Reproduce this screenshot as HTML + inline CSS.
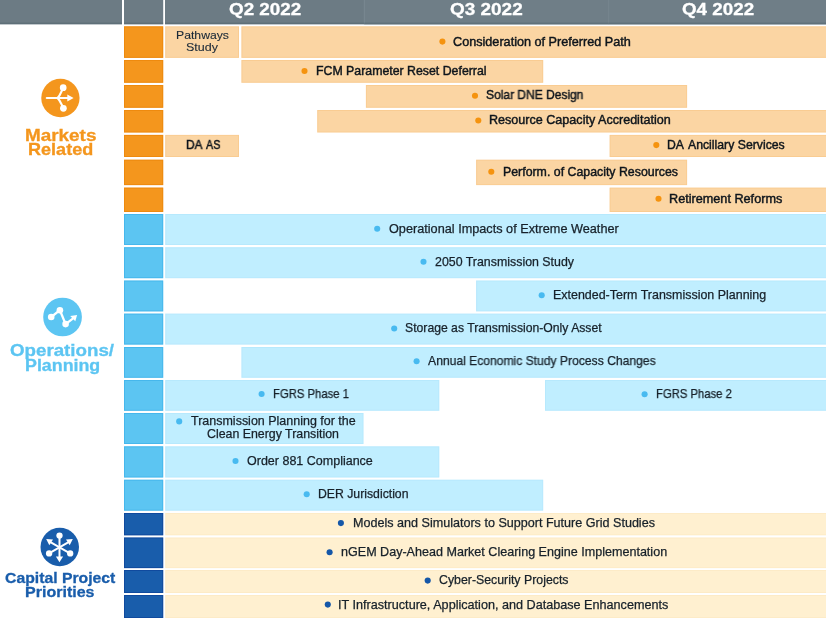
<!DOCTYPE html>
<html><head><meta charset="utf-8"><title>Work Plan Timeline</title>
<style>
html,body{margin:0;padding:0;background:#fff;}
body{width:826px;height:620px;position:relative;overflow:hidden;font-family:"Liberation Sans",sans-serif;}
.r{position:absolute;}
.t{position:absolute;white-space:nowrap;transform-origin:0 0;line-height:20px;height:20px;will-change:transform;}
.d{position:absolute;border-radius:50%;}
svg{position:absolute;left:0;top:0;}
</style></head><body>
<svg width="826" height="620" viewBox="0 0 826 620">
<rect x="0" y="0" width="122" height="24.3" fill="#6c7b84"/>
<rect x="124" y="0" width="39.2" height="24.3" fill="#6c7b84"/>
<rect x="165" y="0" width="661" height="24.3" fill="#6c7b84"/>
<rect x="364.3" y="0" width="461.7" height="24.3" fill="#6f7e87"/>
<rect x="363.8" y="0" width="1.0" height="24.3" fill="rgba(140,158,168,.4)"/>
<rect x="608.2" y="0" width="1.0" height="24.3" fill="rgba(140,158,168,.28)"/>
<rect x="0" y="22.6" width="122" height="1.7" fill="rgba(70,88,98,.35)"/>
<rect x="124" y="22.6" width="39.2" height="1.7" fill="rgba(70,88,98,.35)"/>
<rect x="165" y="22.6" width="661" height="1.7" fill="rgba(70,88,98,.35)"/>
<rect x="124" y="26.3" width="39.2" height="31.6" fill="#f4961d"/>
<rect x="124.5" y="26.8" width="38.2" height="30.6" fill="none" stroke="rgba(232,125,0,.5)" stroke-width="1"/>
<rect x="124" y="60" width="39.2" height="22.8" fill="#f4961d"/>
<rect x="124.5" y="60.5" width="38.2" height="21.8" fill="none" stroke="rgba(232,125,0,.5)" stroke-width="1"/>
<rect x="124" y="85" width="39.2" height="22.8" fill="#f4961d"/>
<rect x="124.5" y="85.5" width="38.2" height="21.8" fill="none" stroke="rgba(232,125,0,.5)" stroke-width="1"/>
<rect x="124" y="110" width="39.2" height="22.5" fill="#f4961d"/>
<rect x="124.5" y="110.5" width="38.2" height="21.5" fill="none" stroke="rgba(232,125,0,.5)" stroke-width="1"/>
<rect x="124" y="134.9" width="39.2" height="22.1" fill="#f4961d"/>
<rect x="124.5" y="135.4" width="38.2" height="21.1" fill="none" stroke="rgba(232,125,0,.5)" stroke-width="1"/>
<rect x="124" y="159.7" width="39.2" height="25.4" fill="#f4961d"/>
<rect x="124.5" y="160.2" width="38.2" height="24.4" fill="none" stroke="rgba(232,125,0,.5)" stroke-width="1"/>
<rect x="124" y="187.6" width="39.2" height="24.4" fill="#f4961d"/>
<rect x="124.5" y="188.1" width="38.2" height="23.4" fill="none" stroke="rgba(232,125,0,.5)" stroke-width="1"/>
<rect x="124" y="214" width="39.2" height="31" fill="#5cc5f2"/>
<rect x="124.5" y="214.5" width="38.2" height="30" fill="none" stroke="rgba(40,165,228,.42)" stroke-width="1"/>
<rect x="124" y="247.2" width="39.2" height="31.0" fill="#5cc5f2"/>
<rect x="124.5" y="247.7" width="38.2" height="30.0" fill="none" stroke="rgba(40,165,228,.42)" stroke-width="1"/>
<rect x="124" y="280.5" width="39.2" height="30.9" fill="#5cc5f2"/>
<rect x="124.5" y="281.0" width="38.2" height="29.9" fill="none" stroke="rgba(40,165,228,.42)" stroke-width="1"/>
<rect x="124" y="313.6" width="39.2" height="31.0" fill="#5cc5f2"/>
<rect x="124.5" y="314.1" width="38.2" height="30.0" fill="none" stroke="rgba(40,165,228,.42)" stroke-width="1"/>
<rect x="124" y="347" width="39.2" height="30.8" fill="#5cc5f2"/>
<rect x="124.5" y="347.5" width="38.2" height="29.8" fill="none" stroke="rgba(40,165,228,.42)" stroke-width="1"/>
<rect x="124" y="380" width="39.2" height="30.8" fill="#5cc5f2"/>
<rect x="124.5" y="380.5" width="38.2" height="29.8" fill="none" stroke="rgba(40,165,228,.42)" stroke-width="1"/>
<rect x="124" y="413" width="39.2" height="31" fill="#5cc5f2"/>
<rect x="124.5" y="413.5" width="38.2" height="30" fill="none" stroke="rgba(40,165,228,.42)" stroke-width="1"/>
<rect x="124" y="446.3" width="39.2" height="31.2" fill="#5cc5f2"/>
<rect x="124.5" y="446.8" width="38.2" height="30.2" fill="none" stroke="rgba(40,165,228,.42)" stroke-width="1"/>
<rect x="124" y="479.7" width="39.2" height="31.0" fill="#5cc5f2"/>
<rect x="124.5" y="480.2" width="38.2" height="30.0" fill="none" stroke="rgba(40,165,228,.42)" stroke-width="1"/>
<rect x="124" y="513" width="39.2" height="22.3" fill="#195dab"/>
<rect x="124.5" y="513.5" width="38.2" height="21.3" fill="none" stroke="rgba(8,55,145,.5)" stroke-width="1"/>
<rect x="124" y="537.5" width="39.2" height="30.6" fill="#195dab"/>
<rect x="124.5" y="538.0" width="38.2" height="29.6" fill="none" stroke="rgba(8,55,145,.5)" stroke-width="1"/>
<rect x="124" y="570" width="39.2" height="23" fill="#195dab"/>
<rect x="124.5" y="570.5" width="38.2" height="22" fill="none" stroke="rgba(8,55,145,.5)" stroke-width="1"/>
<rect x="124" y="595" width="39.2" height="23" fill="#195dab"/>
<rect x="124.5" y="595.5" width="38.2" height="22" fill="none" stroke="rgba(8,55,145,.5)" stroke-width="1"/>
<rect x="165.2" y="26.3" width="73.8" height="31.6" fill="#fbd5a3"/>
<rect x="165.7" y="26.8" width="72.8" height="30.6" fill="none" stroke="rgba(240,160,60,.16)" stroke-width="1"/>
<rect x="241.4" y="26.3" width="588.6" height="31.6" fill="#fbd5a3"/>
<rect x="241.9" y="26.8" width="587.6" height="30.6" fill="none" stroke="rgba(240,160,60,.16)" stroke-width="1"/>
<rect x="241.4" y="60" width="301.8" height="22.8" fill="#fbd5a3"/>
<rect x="241.9" y="60.5" width="300.8" height="21.8" fill="none" stroke="rgba(240,160,60,.16)" stroke-width="1"/>
<rect x="365.9" y="85" width="321.2" height="22.8" fill="#fbd5a3"/>
<rect x="366.4" y="85.5" width="320.2" height="21.8" fill="none" stroke="rgba(240,160,60,.16)" stroke-width="1"/>
<rect x="317.2" y="110" width="512.8" height="22.5" fill="#fbd5a3"/>
<rect x="317.7" y="110.5" width="511.8" height="21.5" fill="none" stroke="rgba(240,160,60,.16)" stroke-width="1"/>
<rect x="165.2" y="134.9" width="73.8" height="22.1" fill="#fbd5a3"/>
<rect x="165.7" y="135.4" width="72.8" height="21.1" fill="none" stroke="rgba(240,160,60,.16)" stroke-width="1"/>
<rect x="609.6" y="134.9" width="220.4" height="22.1" fill="#fbd5a3"/>
<rect x="610.1" y="135.4" width="219.4" height="21.1" fill="none" stroke="rgba(240,160,60,.16)" stroke-width="1"/>
<rect x="476.1" y="159.7" width="211.0" height="25.4" fill="#fbd5a3"/>
<rect x="476.6" y="160.2" width="210.0" height="24.4" fill="none" stroke="rgba(240,160,60,.16)" stroke-width="1"/>
<rect x="609.6" y="187.6" width="220.4" height="24.4" fill="#fbd5a3"/>
<rect x="610.1" y="188.1" width="219.4" height="23.4" fill="none" stroke="rgba(240,160,60,.16)" stroke-width="1"/>
<rect x="165.2" y="214" width="664.8" height="31" fill="#c0eeff"/>
<rect x="165.7" y="214.5" width="663.8" height="30" fill="none" stroke="rgba(120,200,240,.12)" stroke-width="1"/>
<rect x="165.2" y="247.2" width="664.8" height="31.0" fill="#c0eeff"/>
<rect x="165.7" y="247.7" width="663.8" height="30.0" fill="none" stroke="rgba(120,200,240,.12)" stroke-width="1"/>
<rect x="476.1" y="280.5" width="353.9" height="30.9" fill="#c0eeff"/>
<rect x="476.6" y="281.0" width="352.9" height="29.9" fill="none" stroke="rgba(120,200,240,.12)" stroke-width="1"/>
<rect x="165.2" y="313.6" width="664.8" height="31.0" fill="#c0eeff"/>
<rect x="165.7" y="314.1" width="663.8" height="30.0" fill="none" stroke="rgba(120,200,240,.12)" stroke-width="1"/>
<rect x="241.4" y="347" width="588.6" height="30.8" fill="#c0eeff"/>
<rect x="241.9" y="347.5" width="587.6" height="29.8" fill="none" stroke="rgba(120,200,240,.12)" stroke-width="1"/>
<rect x="165.2" y="380" width="274.1" height="30.8" fill="#c0eeff"/>
<rect x="165.7" y="380.5" width="273.1" height="29.8" fill="none" stroke="rgba(120,200,240,.12)" stroke-width="1"/>
<rect x="545" y="380" width="285" height="30.8" fill="#c0eeff"/>
<rect x="545.5" y="380.5" width="284" height="29.8" fill="none" stroke="rgba(120,200,240,.12)" stroke-width="1"/>
<rect x="165.2" y="413" width="198.3" height="31" fill="#c0eeff"/>
<rect x="165.7" y="413.5" width="197.3" height="30" fill="none" stroke="rgba(120,200,240,.12)" stroke-width="1"/>
<rect x="165.2" y="446.3" width="274.1" height="31.2" fill="#c0eeff"/>
<rect x="165.7" y="446.8" width="273.1" height="30.2" fill="none" stroke="rgba(120,200,240,.12)" stroke-width="1"/>
<rect x="165.2" y="479.7" width="378.0" height="31.0" fill="#c0eeff"/>
<rect x="165.7" y="480.2" width="377.0" height="30.0" fill="none" stroke="rgba(120,200,240,.12)" stroke-width="1"/>
<rect x="165.2" y="513" width="664.8" height="22.3" fill="#fff0d0"/>
<rect x="165.7" y="513.5" width="663.8" height="21.3" fill="none" stroke="rgba(235,205,140,.12)" stroke-width="1"/>
<rect x="165.2" y="537.5" width="664.8" height="30.6" fill="#fff0d0"/>
<rect x="165.7" y="538.0" width="663.8" height="29.6" fill="none" stroke="rgba(235,205,140,.12)" stroke-width="1"/>
<rect x="165.2" y="570" width="664.8" height="23" fill="#fff0d0"/>
<rect x="165.7" y="570.5" width="663.8" height="22" fill="none" stroke="rgba(235,205,140,.12)" stroke-width="1"/>
<rect x="165.2" y="595" width="664.8" height="23" fill="#fff0d0"/>
<rect x="165.7" y="595.5" width="663.8" height="22" fill="none" stroke="rgba(235,205,140,.12)" stroke-width="1"/>
<circle cx="442.4" cy="41.6" r="3.05" fill="#f5930f"/>
<circle cx="304.5" cy="71" r="3.05" fill="#f5930f"/>
<circle cx="475" cy="95.8" r="3.05" fill="#f5930f"/>
<circle cx="478.3" cy="120.5" r="3.05" fill="#f5930f"/>
<circle cx="656.3" cy="145.1" r="3.05" fill="#f5930f"/>
<circle cx="491.3" cy="171.7" r="3.05" fill="#f5930f"/>
<circle cx="658.5" cy="198.7" r="3.05" fill="#f5930f"/>
<circle cx="377.2" cy="228.8" r="3.05" fill="#48baf0"/>
<circle cx="423.5" cy="261.8" r="3.05" fill="#48baf0"/>
<circle cx="541.7" cy="295.2" r="3.05" fill="#48baf0"/>
<circle cx="394.2" cy="328.5" r="3.05" fill="#48baf0"/>
<circle cx="416.6" cy="361.3" r="3.05" fill="#48baf0"/>
<circle cx="261.6" cy="394" r="3.05" fill="#48baf0"/>
<circle cx="644.6" cy="394.2" r="3.05" fill="#48baf0"/>
<circle cx="179.2" cy="421.4" r="3.05" fill="#48baf0"/>
<circle cx="235.5" cy="461" r="3.05" fill="#48baf0"/>
<circle cx="306.7" cy="494.3" r="3.05" fill="#48baf0"/>
<circle cx="340.9" cy="523.1" r="3.05" fill="#1557a8"/>
<circle cx="329.6" cy="552.3" r="3.05" fill="#1557a8"/>
<circle cx="427.7" cy="580.6" r="3.05" fill="#1557a8"/>
<circle cx="327.8" cy="604.6" r="3.05" fill="#1557a8"/>
<g>
<!-- markets icon -->
<circle cx="60.4" cy="98" r="19.15" fill="#f4961d"/>
<g stroke="#fff" stroke-width="2.2" fill="none" stroke-linecap="round">
<path d="M46.8 98 H68.5"/>
<path d="M57.6 98 Q59.6 96 61.9 90.6"/>
<path d="M57.6 98 Q59.6 100 62.1 105.4"/>
</g>
<path d="M67.3 94.4 L73.6 98 L67.3 101.6 Z" fill="#fff"/>
<circle cx="63.2" cy="87.7" r="3.35" fill="#fff"/>
<circle cx="63.4" cy="108.3" r="3.35" fill="#fff"/>
<!-- ops icon -->
<circle cx="62.55" cy="317" r="19.35" fill="#5cc5f2"/>
<g stroke="#fff" stroke-width="2.3" fill="none" stroke-linecap="round" stroke-linejoin="round">
<path d="M51.2 317 L59.9 310.2 L65.6 324.1 L72.8 318.6"/>
</g>
<path d="M77.1 315 L70.2 316.1 L75.3 321.2 Z" fill="#fff"/>
<circle cx="51.2" cy="317" r="3.3" fill="#fff"/>
<circle cx="59.9" cy="310.2" r="3.3" fill="#fff"/>
<circle cx="65.6" cy="324.1" r="3.3" fill="#fff"/>
<!-- capital icon -->
<g transform="translate(0,0.3)">
<circle cx="59.75" cy="546.7" r="19.25" fill="#195dab"/>
<g stroke="#fff" stroke-width="2" fill="none" stroke-linecap="round">
<path d="M59.5 536 V557.5"/>
<path d="M50 541.6 L70 553"/>
<path d="M69 541.6 L49 553"/>
</g>
<circle cx="59.5" cy="535.3" r="3.15" fill="#fff"/>
<circle cx="49.1" cy="553.1" r="3.15" fill="#fff"/>
<circle cx="70.2" cy="553.1" r="3.15" fill="#fff"/>
<path d="M55.9 556.2 H63.1 L59.5 561.9 Z" fill="#fff"/>
<path d="M46.2 538.8 L53 539.2 L49.3 545 Z" fill="#fff"/>
<path d="M72.8 538.8 L66 539.2 L69.7 545 Z" fill="#fff"/>
</g>
</g>
</svg>
<div class="t" style="left:228.55px;top:-1px;font-size:17.2px;color:#fff;transform:scaleX(1.0962);-webkit-text-stroke:0.3px #fff;font-weight:bold;">Q2 2022</div>
<div class="t" style="left:450.44px;top:-1px;font-size:17.2px;color:#fff;transform:scaleX(1.1024);-webkit-text-stroke:0.3px #fff;font-weight:bold;">Q3 2022</div>
<div class="t" style="left:681.95px;top:-1px;font-size:17.2px;color:#fff;transform:scaleX(1.0931);-webkit-text-stroke:0.3px #fff;font-weight:bold;">Q4 2022</div>
<div class="t" style="left:175.82px;top:25px;font-size:11.4px;color:#1b2a38;transform:scaleX(1.0726);-webkit-text-stroke:0.12px #1b2a38;">Pathways</div>
<div class="t" style="left:186.44px;top:37px;font-size:11.4px;color:#1b2a38;transform:scaleX(1.0961);-webkit-text-stroke:0.12px #1b2a38;">Study</div>
<div class="t" style="left:452.97px;top:32px;font-size:12.2px;color:#0e151c;transform:scaleX(1.0377);-webkit-text-stroke:0.42px #0e151c;">Consideration of Preferred Path</div>
<div class="t" style="left:315.61px;top:61px;font-size:12.2px;color:#0e151c;transform:scaleX(1.0113);-webkit-text-stroke:0.42px #0e151c;">FCM Parameter Reset Deferral</div>
<div class="t" style="left:486.26px;top:85px;font-size:12.2px;color:#0e151c;transform:scaleX(0.9850);-webkit-text-stroke:0.42px #0e151c;">Solar DNE Design</div>
<div class="t" style="left:489.19px;top:110px;font-size:12.2px;color:#0e151c;transform:scaleX(1.0314);-webkit-text-stroke:0.42px #0e151c;">Resource Capacity Accreditation</div>
<div class="t" style="left:185.85px;top:135px;font-size:12.2px;color:#0e151c;transform:scaleX(0.9736);-webkit-text-stroke:0.5px #0e151c;">DA</div>
<div class="t" style="left:206.15px;top:135px;font-size:12.2px;color:#0e151c;transform:scaleX(0.8837);-webkit-text-stroke:0.5px #0e151c;">AS</div>
<div class="t" style="left:667.44px;top:135px;font-size:12.2px;color:#0e151c;transform:scaleX(0.9861);-webkit-text-stroke:0.42px #0e151c;">DA</div>
<div class="t" style="left:687.74px;top:135px;font-size:12.2px;color:#0e151c;transform:scaleX(1.0055);-webkit-text-stroke:0.42px #0e151c;">Ancillary Services</div>
<div class="t" style="left:502.61px;top:162px;font-size:12.2px;color:#0e151c;transform:scaleX(1.0130);-webkit-text-stroke:0.42px #0e151c;">Perform. of Capacity Resources</div>
<div class="t" style="left:669.49px;top:189px;font-size:12.2px;color:#0e151c;transform:scaleX(1.0387);-webkit-text-stroke:0.42px #0e151c;">Retirement Reforms</div>
<div class="t" style="left:388.93px;top:219px;font-size:12.2px;color:#17212a;transform:scaleX(1.0414);-webkit-text-stroke:0.25px #17212a;">Operational Impacts of Extreme Weather</div>
<div class="t" style="left:434.58px;top:252px;font-size:12.2px;color:#17212a;transform:scaleX(1.0159);-webkit-text-stroke:0.25px #17212a;">2050 Transmission Study</div>
<div class="t" style="left:553.00px;top:285px;font-size:12.2px;color:#17212a;transform:scaleX(1.0218);-webkit-text-stroke:0.25px #17212a;">Extended-Term Transmission Planning</div>
<div class="t" style="left:405.05px;top:318px;font-size:12.2px;color:#17212a;transform:scaleX(1.0011);-webkit-text-stroke:0.25px #17212a;">Storage as Transmission-Only Asset</div>
<div class="t" style="left:428.14px;top:351px;font-size:12.2px;color:#17212a;transform:scaleX(0.9941);-webkit-text-stroke:0.25px #17212a;">Annual Economic Study Process Changes</div>
<div class="t" style="left:272.60px;top:384px;font-size:12.2px;color:#17212a;transform:scaleX(0.9259);-webkit-text-stroke:0.25px #17212a;">FGRS Phase 1</div>
<div class="t" style="left:656.10px;top:384px;font-size:12.2px;color:#17212a;transform:scaleX(0.9247);-webkit-text-stroke:0.25px #17212a;">FGRS Phase 2</div>
<div class="t" style="left:190.69px;top:411px;font-size:12.2px;color:#17212a;transform:scaleX(1.0246);-webkit-text-stroke:0.25px #17212a;">Transmission Planning for the</div>
<div class="t" style="left:207.38px;top:424px;font-size:12.2px;color:#17212a;transform:scaleX(1.0142);-webkit-text-stroke:0.25px #17212a;">Clean Energy Transition</div>
<div class="t" style="left:247.44px;top:451px;font-size:12.2px;color:#17212a;transform:scaleX(1.0260);-webkit-text-stroke:0.25px #17212a;">Order 881 Compliance</div>
<div class="t" style="left:317.62px;top:484px;font-size:12.2px;color:#17212a;transform:scaleX(1.0046);-webkit-text-stroke:0.25px #17212a;">DER Jurisdiction</div>
<div class="t" style="left:352.99px;top:513px;font-size:12.2px;color:#17212a;transform:scaleX(1.0318);-webkit-text-stroke:0.25px #17212a;">Models and Simulators to Support Future Grid Studies</div>
<div class="t" style="left:340.98px;top:542px;font-size:12.2px;color:#17212a;transform:scaleX(1.0309);-webkit-text-stroke:0.25px #17212a;">nGEM Day-Ahead Market Clearing Engine Implementation</div>
<div class="t" style="left:439.28px;top:570px;font-size:12.2px;color:#17212a;transform:scaleX(1.0116);-webkit-text-stroke:0.25px #17212a;">Cyber-Security Projects</div>
<div class="t" style="left:338.46px;top:595px;font-size:12.2px;color:#17212a;transform:scaleX(1.0359);-webkit-text-stroke:0.25px #17212a;">IT Infrastructure, Application, and Database Enhancements</div>
<div class="t" style="left:24.57px;top:125px;font-size:16.2px;color:#f4961d;transform:scaleX(1.1674);-webkit-text-stroke:0.3px #f4961d;font-weight:bold;">Markets</div>
<div class="t" style="left:27.93px;top:139px;font-size:16.2px;color:#f4961d;transform:scaleX(1.1157);-webkit-text-stroke:0.3px #f4961d;font-weight:bold;">Related</div>
<div class="t" style="left:10.25px;top:341px;font-size:15.8px;color:#5cc5f2;transform:scaleX(1.1854);-webkit-text-stroke:0.3px #5cc5f2;font-weight:bold;">Operations/</div>
<div class="t" style="left:25.24px;top:356px;font-size:15.8px;color:#5cc5f2;transform:scaleX(1.1281);-webkit-text-stroke:0.3px #5cc5f2;font-weight:bold;">Planning</div>
<div class="t" style="left:4.77px;top:568px;font-size:15.2px;color:#195dab;transform:scaleX(1.0375);-webkit-text-stroke:0.3px #195dab;font-weight:bold;">Capital Project</div>
<div class="t" style="left:25.36px;top:582px;font-size:15.2px;color:#195dab;transform:scaleX(1.0561);-webkit-text-stroke:0.3px #195dab;font-weight:bold;">Priorities</div>
</body></html>
